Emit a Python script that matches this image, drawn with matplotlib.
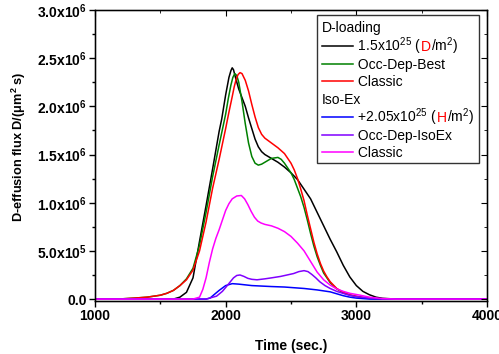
import matplotlib
matplotlib.use("Agg")
import matplotlib.pyplot as plt
from matplotlib.offsetbox import HPacker, TextArea, DrawingArea, AnnotationBbox
from matplotlib.lines import Line2D
from matplotlib.patches import Rectangle
from matplotlib.ticker import MultipleLocator

plt.rcParams['font.family'] = ['Liberation Sans', 'DejaVu Sans']
plt.rcParams['mathtext.fontset'] = 'custom'
plt.rcParams['mathtext.rm'] = 'Liberation Sans'
plt.rcParams['mathtext.it'] = 'Liberation Sans:italic'
plt.rcParams['mathtext.bf'] = 'Liberation Sans:bold'

# ---- data (flux in units of 1e6 D/(um^2 s)) ----
t_black = [1000, 1600, 1650, 1700, 1750, 1800, 1850, 1900, 1950, 1970, 2000, 2025, 2040, 2050,
           2060, 2075, 2100, 2125, 2150, 2175, 2200, 2225, 2250, 2275, 2300, 2350, 2400, 2450,
           2500, 2550, 2600, 2650, 2700, 2750, 2800, 2850, 2900, 2950, 3000, 3050, 3100, 3150,
           3200, 3300, 4000]
y_black = [0, 0, 0.02, 0.07, 0.22, 0.60, 0.97, 1.35, 1.74, 1.87, 2.12, 2.30, 2.37, 2.40,
           2.38, 2.30, 2.18, 2.09, 2.00, 1.88, 1.77, 1.66, 1.58, 1.53, 1.50, 1.46, 1.42, 1.37,
           1.31, 1.24, 1.14, 1.04, 0.90, 0.76, 0.62, 0.49, 0.35, 0.23, 0.14, 0.08, 0.045, 0.02,
           0.008, 0, 0]

t_green = [1000, 1200, 1300, 1400, 1500, 1550, 1600, 1650, 1700, 1750, 1800, 1850, 1900, 1950,
           2000, 2020, 2040, 2055, 2070, 2085, 2100, 2125, 2150, 2175, 2200, 2225, 2250, 2275,
           2300, 2350, 2400, 2425, 2450, 2500, 2525, 2550, 2575, 2600, 2625, 2650, 2675, 2700,
           2725, 2750, 2800, 2850, 2900, 2950, 3000, 3050, 3100, 3200, 4000]
y_green = [0, 0.002, 0.01, 0.02, 0.04, 0.06, 0.09, 0.14, 0.21, 0.32, 0.56, 0.90, 1.27, 1.60,
           1.92, 2.08, 2.22, 2.30, 2.34, 2.32, 2.25, 2.05, 1.82, 1.62, 1.48, 1.41, 1.39, 1.40,
           1.42, 1.46, 1.47, 1.45, 1.41, 1.31, 1.24, 1.15, 1.06, 0.95, 0.82, 0.68, 0.55, 0.44,
           0.35, 0.27, 0.17, 0.105, 0.065, 0.04, 0.025, 0.015, 0.008, 0, 0]

t_red = [1000, 1200, 1300, 1400, 1500, 1550, 1600, 1650, 1700, 1750, 1800, 1850, 1900, 1950,
         2000, 2025, 2050, 2065, 2080, 2095, 2110, 2125, 2150, 2175, 2200, 2225, 2250, 2275,
         2300, 2350, 2400, 2450, 2500, 2525, 2550, 2575, 2600, 2625, 2650, 2675, 2700, 2725,
         2750, 2775, 2800, 2850, 2900, 2950, 3000, 3050, 3100, 3200, 4000]
y_red = [0, 0.002, 0.01, 0.02, 0.04, 0.06, 0.09, 0.14, 0.20, 0.30, 0.50, 0.80, 1.15, 1.45,
         1.77, 1.94, 2.10, 2.20, 2.28, 2.33, 2.35, 2.34, 2.27, 2.16, 2.02, 1.89, 1.78, 1.71,
         1.67, 1.62, 1.57, 1.51, 1.41, 1.34, 1.25, 1.14, 1.02, 0.87, 0.73, 0.59, 0.47, 0.37,
         0.29, 0.23, 0.18, 0.11, 0.07, 0.045, 0.03, 0.018, 0.01, 0, 0]

t_blue = [1000, 1850, 1880, 1950, 2000, 2050, 2100, 2200, 2350, 2450, 2600, 2700, 2800, 2850,
          2900, 2950, 3000, 3100, 4000]
y_blue = [0, 0, 0.01, 0.09, 0.14, 0.16, 0.155, 0.14, 0.13, 0.125, 0.11, 0.095, 0.075, 0.055,
          0.035, 0.02, 0.01, 0, 0]

t_purple = [1000, 1850, 1930, 1975, 2000, 2030, 2060, 2085, 2110, 2140, 2170, 2200, 2240, 2300,
            2350, 2420, 2470, 2520, 2560, 2600, 2630, 2660, 2690, 2720, 2760, 2800, 2850, 2920,
            2980, 3100, 3200, 4000]
y_purple = [0, 0, 0.03, 0.08, 0.12, 0.17, 0.22, 0.245, 0.25, 0.235, 0.215, 0.205, 0.20, 0.21,
            0.22, 0.235, 0.25, 0.265, 0.285, 0.295, 0.285, 0.255, 0.22, 0.18, 0.14, 0.11, 0.08,
            0.05, 0.03, 0.01, 0, 0]

t_mag = [1000, 1750, 1800, 1825, 1850, 1875, 1900, 1925, 1950, 1975, 2000, 2025, 2050, 2085,
         2120, 2145, 2170, 2195, 2220, 2245, 2270, 2300, 2350, 2400, 2450, 2500, 2550, 2600,
         2650, 2700, 2750, 2800, 2850, 2900, 2950, 3030, 3100, 3200, 3300, 4000]
y_mag = [0, 0, 0.02, 0.10, 0.22, 0.38, 0.52, 0.63, 0.72, 0.82, 0.92, 0.99, 1.04, 1.07,
         1.075, 1.04, 0.98, 0.91, 0.85, 0.81, 0.79, 0.775, 0.76, 0.735, 0.70, 0.65, 0.58, 0.50,
         0.39, 0.28, 0.20, 0.145, 0.105, 0.08, 0.06, 0.04, 0.02, 0.005, 0, 0]

ytick_vals = [0, 0.5, 1.0, 1.5, 2.0, 2.5, 3.0]
ytick_labels = ['0.0',
                r'$\mathbf{5.0x10}^{\mathbf{5}}$',
                r'$\mathbf{1.0x10}^{\mathbf{6}}$',
                r'$\mathbf{1.5x10}^{\mathbf{6}}$',
                r'$\mathbf{2.0x10}^{\mathbf{6}}$',
                r'$\mathbf{2.5x10}^{\mathbf{6}}$',
                r'$\mathbf{3.0x10}^{\mathbf{6}}$']
xtick_vals = [1000, 2000, 3000, 4000]
xtick_labels = ['1000', '2000', '3000', '4000']

C_BLACK, C_GREEN, C_RED = '#000000', '#008000', '#ff0000'
C_BLUE, C_PURPLE, C_MAG = '#0000ff', '#8000ff', '#ff00ff'

W, H = 499, 354
fig = plt.figure(figsize=(W / 100, H / 100), dpi=100)
L, R, T, B = 95, 487, 10, 301
ax = fig.add_axes([L / W, 1 - B / H, (R - L) / W, (B - T) / H])

lw = 1.1
ax.plot(t_black, y_black, color=C_BLACK, lw=lw)
ax.plot(t_green, y_green, color=C_GREEN, lw=lw)
ax.plot(t_red, y_red, color=C_RED, lw=lw)
ax.plot(t_blue, y_blue, color=C_BLUE, lw=lw)
ax.plot(t_purple, y_purple, color=C_PURPLE, lw=lw)
ax.plot(t_mag, y_mag, color=C_MAG, lw=lw)

ax.set_xlim(1000, 4000)
ax.set_ylim(-0.02, 3.0)
ax.set_xticks(xtick_vals)
ax.set_xticklabels(xtick_labels, fontweight='bold', fontsize=10)
ax.xaxis.set_minor_locator(MultipleLocator(500))
ax.set_yticks(ytick_vals)
ax.set_yticklabels(ytick_labels, fontweight='bold', fontsize=10)
ax.yaxis.set_minor_locator(MultipleLocator(0.25))
ax.tick_params(which='major', direction='out', length=4, width=1, pad=2)
ax.tick_params(which='minor', direction='out', length=2.5, width=1)
for s in ax.spines.values():
    s.set_linewidth(1.0)

# inward ticks on top and right
axr = ax.twinx()
axr.set_ylim(ax.get_ylim())
axr.set_yticks(ytick_vals)
axr.yaxis.set_minor_locator(MultipleLocator(0.25))
axr.tick_params(which='both', direction='in', labelright=False)
axr.tick_params(which='major', length=4)
axr.tick_params(which='minor', length=2.5)
axt = ax.twiny()
axt.set_xlim(ax.get_xlim())
axt.set_xticks(xtick_vals)
axt.xaxis.set_minor_locator(MultipleLocator(500))
axt.tick_params(which='both', direction='in', labeltop=False)
axt.tick_params(which='major', length=4)
axt.tick_params(which='minor', length=2.5)

ax.set_xlabel('Time (sec.)', fontweight='bold', fontsize=10, labelpad=11)
ax.set_ylabel(r'D-effusion flux D/(μm$^{\mathbf{2}}$ s)', fontweight='bold', fontsize=9.2)
ax.yaxis.set_label_coords(-0.172, 0.53)

# ---- legend drawn manually ----
fig.add_artist(Rectangle((317 / W, 1 - 163 / H), (479 - 317) / W, (163 - 15) / H,
                         transform=fig.transFigure, facecolor='white', edgecolor='#333333',
                         lw=1.0, zorder=5))

FS = 10


def handle(color):
    da = DrawingArea(23, 7, 0, 0)
    da.add_artist(Line2D([0, 22.5], [3.4, 3.4], color=color, lw=lw))
    return da


def row(parts, y_px, x_px, color=None):
    children = []
    if color is not None:
        children.append(handle(color))
    for txt, c in parts:
        children.append(TextArea(txt, textprops=dict(color=c, fontsize=FS)))
    box = HPacker(children=children, align='baseline', pad=0, sep=0)
    ab = AnnotationBbox(box, (x_px, H - y_px), xycoords='figure pixels', box_alignment=(0, 0.5),
                        frameon=False, pad=0, zorder=6)
    fig.add_artist(ab)


row([('D-loading', 'k')], 28, 322)
row([(' 1.5x10$^{25}$ (', 'k'), ('D', C_RED), ('/m$^{2}$)', 'k')], 46, 322, C_BLACK)
row([(' Occ-Dep-Best', 'k')], 65, 322, C_GREEN)
row([(' Classic', 'k')], 82, 322, C_RED)
row([('Iso-Ex', 'k')], 100, 322)
row([(' +2.05x10$^{25}$ (', 'k'), ('H', C_RED), ('/m$^{2}$)', 'k')], 117, 322, C_BLUE)
row([(' Occ-Dep-IsoEx', 'k')], 136, 322, C_PURPLE)
row([(' Classic', 'k')], 153, 322, C_MAG)

fig.savefig('out.png', dpi=100)
